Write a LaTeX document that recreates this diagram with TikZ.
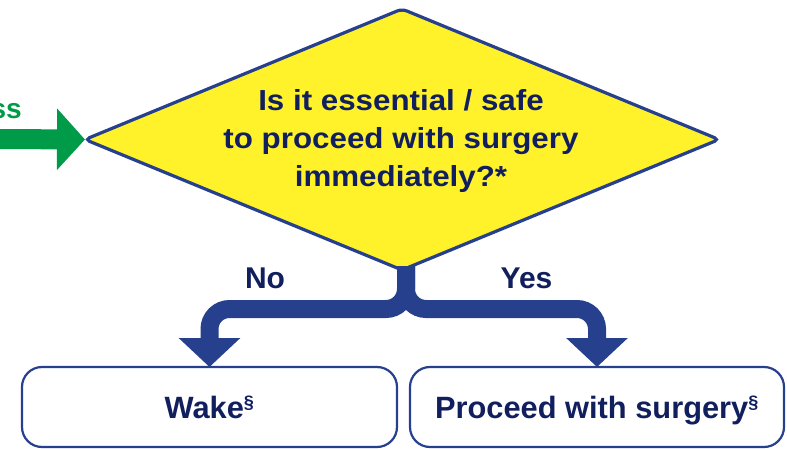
\documentclass[tikz,border=0pt]{standalone}
\usepackage{fontspec}
\setmainfont{Liberation Sans}
\newfontfamily\qfont[FakeStretch=1.08]{Liberation Sans Bold}
\usetikzlibrary{shapes.geometric,arrows.meta}
\definecolor{qyellow}{HTML}{FFF22B}
\definecolor{qblue}{HTML}{27408E}
\definecolor{qnavy}{HTML}{111F5E}
\definecolor{qgreen}{HTML}{009B48}
\tikzset{
  decision/.style={shape=diamond, draw=qblue, fill=qyellow, line width=3.2pt,
    rounded corners=5pt, inner sep=0pt, outer sep=0pt,
    minimum width=634pt, minimum height=261pt},
  qtext/.style={align=center, text=qnavy, font=\qfont\fontsize{29}{38.2}\selectfont},
  outcome/.style={draw=qblue, line width=2.2pt, rounded corners=20pt, fill=white,
    minimum height=80pt, inner sep=0pt, outer sep=0pt, text=qnavy,
    text height=22pt, text depth=0pt,
    font=\bfseries\fontsize{30.8}{34}\selectfont},
  label/.style={text=qnavy, anchor=base, inner sep=0pt,
    font=\bfseries\fontsize{30}{34}\selectfont},
  flow/.style={draw=qblue, line width=18pt, rounded corners=20pt,
    -{Triangle[width=60pt,length=29pt]}},
  inflow/.style={draw=qgreen, line width=20pt,
    -{Triangle[width=60pt,length=28pt]}},
}
\newcommand{\sect}{\textsuperscript{\fontsize{18}{18}\selectfont\bfseries\S}}
\begin{document}
\begin{tikzpicture}[x=1pt,y=-1pt]
\useasboundingbox (0,0) rectangle (787,449);
% incoming green arrow
\coordinate (gin) at (-4,139);
\node[text=qgreen, anchor=base east, inner sep=0pt,
  font=\bfseries\fontsize{28}{30}\selectfont] (prev) at (22,119) {ss};
% decision
\node[decision] (q) at (402,139.5) {};
\node[qtext] (qt) at (401,141) {Is it essential / safe\\to proceed with surgery\\immediately?*};
\draw[inflow] (gin) -- (q.west);
% outcomes
\node[outcome, minimum width=375pt] (wake) at (209.5,407) {Wake\sect};
\node[outcome, minimum width=374pt] (surg) at (597,407) {Proceed with surgery\sect};
% branches
\coordinate (top) at (406,266);
\coordinate (j) at (406,309);
\draw[flow] (top) -- (j) -- (j -| wake.north) -- (wake.north);
\draw[flow] (top) -- (j) -- (j -| surg.north) -- (surg.north);
\node[label] (no) at (265,288) {No};
\node[label] (yes) at (526.5,288) {Yes};
\end{tikzpicture}
\end{document}
